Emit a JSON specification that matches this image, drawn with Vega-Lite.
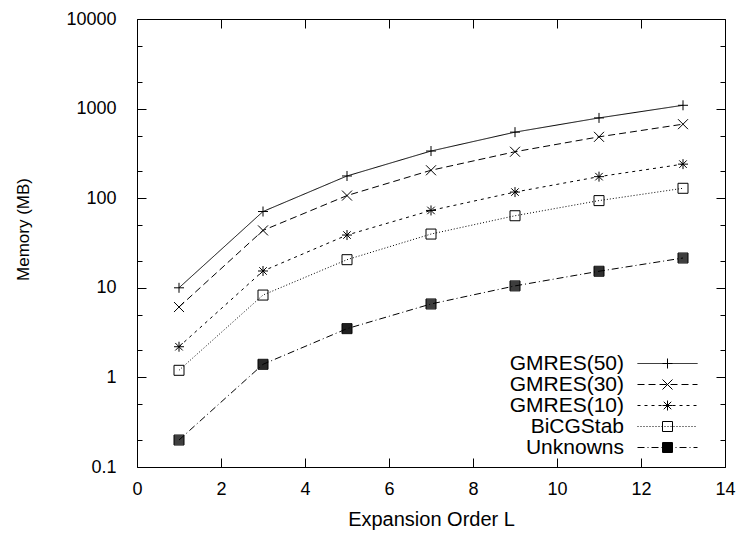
{
  "$schema": "https://vega.github.io/schema/vega-lite/v6.json",
  "width": 588,
  "height": 448,
  "autosize": {"type": "none"},
  "padding": {"left": 137, "top": 19, "right": 17, "bottom": 69},
  "config": {
    "font": "Liberation Sans",
    "view": {"stroke": "black", "strokeWidth": 1},
    "axis": {
      "domain": false,
      "grid": false,
      "tickColor": "black",
      "tickWidth": 1,
      "labelColor": "black",
      "labelFontSize": 18,
      "labelFlush": false,
      "titleColor": "black",
      "titleFontSize": 18,
      "titleFontWeight": "normal"
    },
    "legend": {"padding": 0}
  },
  "data": {
    "values": [
      {"L": 1, "memory": 10, "series": "GMRES(50)"},
      {"L": 3, "memory": 71, "series": "GMRES(50)"},
      {"L": 5, "memory": 177, "series": "GMRES(50)"},
      {"L": 7, "memory": 336, "series": "GMRES(50)"},
      {"L": 9, "memory": 546, "series": "GMRES(50)"},
      {"L": 11, "memory": 787, "series": "GMRES(50)"},
      {"L": 13, "memory": 1089, "series": "GMRES(50)"},
      {"L": 1, "memory": 6.1, "series": "GMRES(30)"},
      {"L": 3, "memory": 43.7, "series": "GMRES(30)"},
      {"L": 5, "memory": 107, "series": "GMRES(30)"},
      {"L": 7, "memory": 205, "series": "GMRES(30)"},
      {"L": 9, "memory": 330, "series": "GMRES(30)"},
      {"L": 11, "memory": 484, "series": "GMRES(30)"},
      {"L": 13, "memory": 670, "series": "GMRES(30)"},
      {"L": 1, "memory": 2.2, "series": "GMRES(10)"},
      {"L": 3, "memory": 15.4, "series": "GMRES(10)"},
      {"L": 5, "memory": 38.8, "series": "GMRES(10)"},
      {"L": 7, "memory": 73, "series": "GMRES(10)"},
      {"L": 9, "memory": 117, "series": "GMRES(10)"},
      {"L": 11, "memory": 174, "series": "GMRES(10)"},
      {"L": 13, "memory": 240, "series": "GMRES(10)"},
      {"L": 1, "memory": 1.2, "series": "BiCGStab"},
      {"L": 3, "memory": 8.3, "series": "BiCGStab"},
      {"L": 5, "memory": 20.6, "series": "BiCGStab"},
      {"L": 7, "memory": 39.8, "series": "BiCGStab"},
      {"L": 9, "memory": 63.7, "series": "BiCGStab"},
      {"L": 11, "memory": 94, "series": "BiCGStab"},
      {"L": 13, "memory": 129, "series": "BiCGStab"},
      {"L": 1, "memory": 0.2, "series": "Unknowns"},
      {"L": 3, "memory": 1.4, "series": "Unknowns"},
      {"L": 5, "memory": 3.5, "series": "Unknowns"},
      {"L": 7, "memory": 6.6, "series": "Unknowns"},
      {"L": 9, "memory": 10.5, "series": "Unknowns"},
      {"L": 11, "memory": 15.3, "series": "Unknowns"},
      {"L": 13, "memory": 21.5, "series": "Unknowns"}
    ]
  },
  "resolve": {"axis": {"x": "independent", "y": "independent"}},
  "layer": [
    {
      "mark": {"type": "line", "color": "black", "strokeWidth": 1},
      "encoding": {
        "x": {
          "field": "L", "type": "quantitative",
          "scale": {"domain": [0, 14], "nice": false},
          "axis": {
            "orient": "bottom",
            "values": [0, 2, 4, 6, 8, 10, 12, 14],
            "tickSize": -9,
            "labelPadding": 22,
            "title": "Expansion Order L",
            "titleFontSize": 20,
            "titlePadding": 11
          }
        },
        "y": {
          "field": "memory", "type": "quantitative",
          "scale": {"type": "log", "domain": [0.1, 10000], "nice": false},
          "axis": {
            "orient": "left",
            "values": [0.1, 0.2, 0.5, 1, 2, 5, 10, 20, 50, 100, 200, 500, 1000, 2000, 5000, 10000],
            "tickSize": {"condition": {"test": "indexof([0.1,1,10,100,1000,10000], datum.value) >= 0", "value": -9}, "value": -5},
            "labelPadding": 30,
            "labelExpr": "indexof([0.1,1,10,100,1000,10000], datum.value) >= 0 ? format(datum.value, '~g') : ''",
            "title": "Memory (MB)",
            "titleFontSize": 17,
            "titlePadding": 33,
            "titleY": 210
          }
        },
        "strokeDash": {
          "field": "series", "type": "nominal",
          "scale": {
            "domain": ["GMRES(50)", "GMRES(30)", "GMRES(10)", "BiCGStab", "Unknowns"],
            "range": [[1, 0], [7, 4], [3, 4], [1, 2], [7, 3, 1, 3]]
          },
          "legend": {
            "title": null,
            "orient": "none",
            "legendX": 520,
            "legendY": 334,
            "symbolType": "M-6,0H6",
            "symbolSize": 100,
            "symbolStrokeWidth": 1,
            "symbolStrokeColor": "black",
            "symbolFillColor": "transparent",
            "rowPadding": -1,
            "labelAlign": "right",
            "labelOffset": -54,
            "labelFontSize": 21,
            "labelColor": "black",
            "labelLimit": 0
          }
        }
      }
    },
    {
      "mark": {"type": "point", "filled": false, "color": "black", "strokeWidth": 1, "size": 100, "opacity": 1},
      "encoding": {
        "x": {
          "field": "L", "type": "quantitative",
          "axis": {
            "orient": "top",
            "values": [0, 2, 4, 6, 8, 10, 12, 14],
            "tickSize": -9,
            "labels": false,
            "title": null
          }
        },
        "y": {
          "field": "memory", "type": "quantitative",
          "axis": {
            "orient": "right",
            "values": [0.1, 0.2, 0.5, 1, 2, 5, 10, 20, 50, 100, 200, 500, 1000, 2000, 5000, 10000],
            "tickSize": {"condition": {"test": "indexof([0.1,1,10,100,1000,10000], datum.value) >= 0", "value": -9}, "value": -5},
            "labels": false,
            "title": null
          }
        },
        "shape": {
          "field": "series", "type": "nominal",
          "sort": ["GMRES(50)", "GMRES(30)", "GMRES(10)", "BiCGStab", "Unknowns"],
          "scale": {
            "range": [
              "M-1,0H1M0,-1V1",
              "M-1,-1L1,1M-1,1L1,-1",
              "M-1,0H1M0,-1V1M-0.75,-0.75L0.75,0.75M-0.75,0.75L0.75,-0.75",
              "M-1,-1H1V1H-1Z",
              "M-1,-1H1V1H-1ZM-1,-0.8H1M-1,-0.6H1M-1,-0.4H1M-1,-0.2H1M-1,0H1M-1,0.2H1M-1,0.4H1M-1,0.6H1M-1,0.8H1"
            ]
          },
          "legend": {
            "title": null,
            "orient": "none",
            "legendX": 520,
            "legendY": 334,
            "symbolSize": 100,
            "symbolStrokeWidth": 1,
            "symbolStrokeColor": "black",
            "symbolFillColor": "transparent",
            "rowPadding": -1,
            "labelAlign": "right",
            "labelOffset": -54,
            "labelFontSize": 21,
            "labelOpacity": 0,
            "labelLimit": 0
          }
        }
      }
    }
  ]
}
